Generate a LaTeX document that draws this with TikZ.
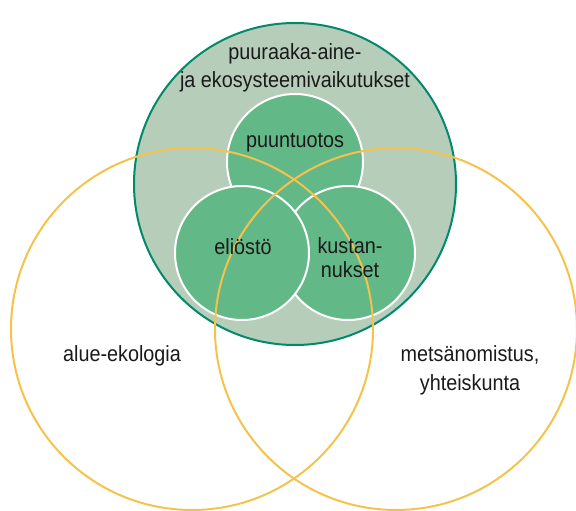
\documentclass[tikz,border=0pt]{standalone}
\usepackage{fontspec}
\setmainfont{Liberation Sans}[FakeStretch=0.9]
\definecolor{outerfill}{HTML}{B6CEB9}
\definecolor{outerline}{HTML}{00896B}
\definecolor{innerfill}{HTML}{63B887}
\definecolor{ringyellow}{HTML}{F5C24C}
\definecolor{labeltext}{HTML}{1A1A1A}
\tikzstyle{outerset} = [fill=outerfill, draw=outerline, line width=2pt]
\tikzstyle{innerset} = [fill=innerfill, draw=white, line width=2pt]
\tikzstyle{ring} = [draw=ringyellow, line width=2pt]
\tikzstyle{settext} = [text=labeltext, font=\fontsize{22}{28}\selectfont, align=center, anchor=base, inner sep=0pt]
\begin{document}
\begin{tikzpicture}[x=1pt, y=-1pt]
\useasboundingbox (0,0) rectangle (576,511);

% wood and ecosystem effects
\draw [outerset] (295,184) circle [radius=161pt];

% three inner sets, left one on top
\draw [innerset] (295,162) circle [radius=68pt];
\draw [innerset] (348,253) circle [radius=67pt];
\draw [innerset] (242,253) circle [radius=67pt];

% landscape and society rings
\draw [ring] (192,329) circle [radius=181pt];
\draw [ring] (396,329) circle [radius=181pt];

% multi-line nodes sit on the baseline of their last line
\node (raaka) [settext] at (295,88) {puuraaka-aine-\\ja ekosysteemivaikutukset};
\node (tuotos) [settext] at (295,147) {puuntuotos};
\node (eliosto) [settext] at (243,254) {eliöstö};
\node (kustannus) [settext, font=\fontsize{22}{23.5}\selectfont] at (350,277) {kustan-\\nukset};
\node (alue) [settext] at (122,361) {alue-ekologia};
\node (omistus) [settext, font=\fontsize{22}{29}\selectfont] at (470,390) {metsänomistus,\\yhteiskunta};

\end{tikzpicture}
\end{document}
